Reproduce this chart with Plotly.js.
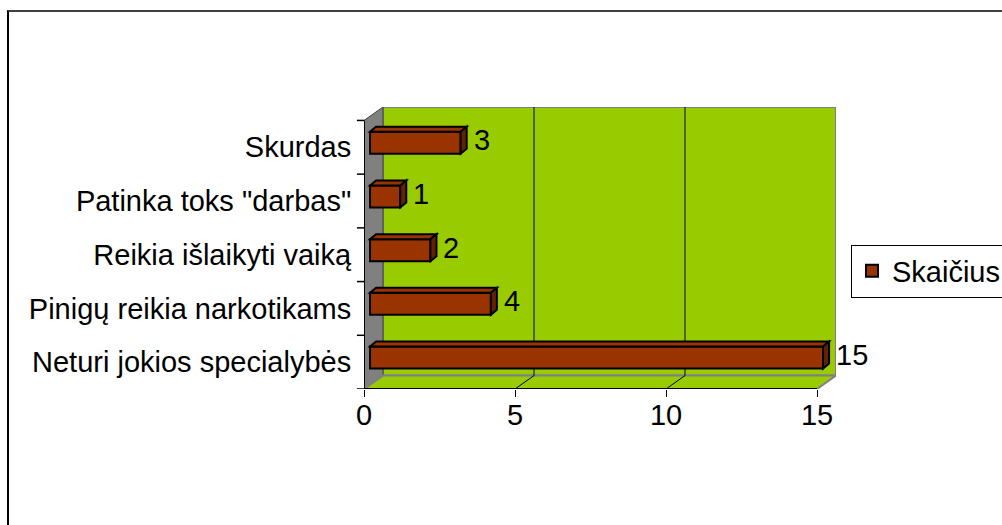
<!DOCTYPE html>
<html>
<head>
<meta charset="utf-8">
<script src="https://cdn.plot.ly/plotly-3.0.1.min.js"></script>
<style>
html,body{margin:0;padding:0;background:#fff;}
#chart{width:1002px;height:525px;position:relative;}
#frame{position:absolute;left:7px;top:10px;width:1100px;height:600px;border-top:2px solid #404040;border-left:2px solid #000;pointer-events:none;}
</style>
</head>
<body>
<div id="chart"></div>
<div id="frame"></div>
<script>
// ---- data ----
const categories = ['Neturi jokios specialybės', 'Pinigų reikia narkotikams', 'Reikia išlaikyti vaiką', 'Patinka toks "darbas"', 'Skurdas'];
const values = [15, 4, 2, 1, 3];
const xTickVals = [0, 5, 10, 15];
const seriesName = 'Skaičius';

// ---- 3D look parameters (in axis units) ----
const DX = 0.629, DY = 0.25;      // wall depth
const BX = 0.2, BY = 0.085;       // bar front-face offset
const FDX = 0.2, FDY = 0.093;     // bar depth faces
const BW = 0.41;                  // bar thickness
const xMax = 15;
const nCat = categories.length;
const idx = categories.map((c, i) => i);

const FONT = 'Liberation Sans, Arial, sans-serif';
const FS = 29;
const shapes = [];
// back wall
shapes.push({type:'rect', xref:'x', yref:'y', layer:'below', x0:DX, x1:xMax+DX, y0:-0.5+DY, y1:nCat-0.5+DY,
  fillcolor:'#99CC00', line:{color:'#808080', width:2}});
// left wall
shapes.push({type:'path', xref:'x', yref:'y', layer:'below',
  path:`M0,-0.5 L${DX},${-0.5+DY} L${DX},${nCat-0.5+DY} L0,${nCat-0.5} Z`,
  fillcolor:'#808080', line:{color:'#404040', width:1}});
// floor
shapes.push({type:'path', xref:'x', yref:'y', layer:'below',
  path:`M0,-0.5 L${DX},${-0.5+DY} L${xMax+DX},${-0.5+DY} L${xMax},-0.5 Z`,
  fillcolor:'#99CC00', line:{color:'#808080', width:2}});
// gridlines + floor diagonals
xTickVals.forEach(v => {
  if (v > 0 && v < xMax) {
    shapes.push({type:'line', xref:'x', yref:'y', layer:'below', x0:v+DX, x1:v+DX, y0:-0.5+DY, y1:nCat-0.5+DY, line:{color:'#000', width:1}});
    shapes.push({type:'line', xref:'x', yref:'y', layer:'below', x0:v, x1:v+DX, y0:-0.5, y1:-0.5+DY, line:{color:'#000', width:1}});
  }
});
// front axis lines
shapes.push({type:'line', xref:'x', yref:'y', x0:0, x1:xMax, y0:-0.5, y1:-0.5, line:{color:'#000', width:2}});
shapes.push({type:'line', xref:'x', yref:'y', x0:0, x1:0, y0:-0.5, y1:nCat-0.5, line:{color:'#000', width:2}});
// category boundary ticks
for (let k = 0; k <= nCat; k++) {
  shapes.push({type:'line', xref:'paper', yref:'y', x0:-0.015, x1:0, y0:k-0.5, y1:k-0.5, line:{color:'#000', width:1.5}});
}
// bar top and side faces
values.forEach((v, i) => {
  const yt = i + BW/2, yb = i - BW/2;
  shapes.push({type:'path', xref:'x2', yref:'y2',
    path:`M0,${yt} L${v},${yt} L${v+FDX},${yt+FDY} L${FDX},${yt+FDY} Z`,
    fillcolor:'#993300', line:{color:'#000', width:2}});
  shapes.push({type:'path', xref:'x2', yref:'y2',
    path:`M${v},${yb} L${v},${yt} L${v+FDX},${yt+FDY} L${v+FDX},${yb+FDY} Z`,
    fillcolor:'#662200', line:{color:'#000', width:2}});
});

// value labels
const annotations = values.map((v, i) => ({
  xref:'x2', yref:'y2', x:v + FDX, y:i + FDY/2, text:String(v), showarrow:false,
  xanchor:'left', yanchor:'middle', xshift:5, font:{family:FONT, size:FS, color:'#000'}
}));

const traces = [
  {type:'bar', orientation:'h', name:seriesName, x:values, y:idx, xaxis:'x2', yaxis:'y2',
   width:BW, marker:{color:'#993300', line:{color:'#000', width:2}}, hoverinfo:'x+y'}
];

const layout = {
  width:1002, height:525,
  margin:{l:364, r:166, t:107, b:136, pad:0},
  paper_bgcolor:'#fff', plot_bgcolor:'rgba(0,0,0,0)',
  font:{family:FONT, size:FS, color:'#000'},
  showlegend:true,
  legend:{xref:'container', yref:'container', x:851/1002, xanchor:'left', y:1-271/525, yanchor:'middle',
    bgcolor:'#fff', bordercolor:'#000', borderwidth:1,
    font:{family:FONT, size:FS, color:'#000'}, tracegroupgap:0},
  xaxis:{range:[0, xMax+DX], tickvals:xTickVals, ticktext:xTickVals.map(String), ticks:'outside', ticklen:7, tickwidth:1,
    tickcolor:'#000', showgrid:false, zeroline:false, showline:false, fixedrange:true, automargin:false,
    ticklabelstandoff:-7, tickfont:{family:FONT, size:FS, color:'#000'}},
  yaxis:{range:[-0.5, nCat-0.5+DY], tickvals:idx, ticktext:categories, ticks:'outside', ticklen:6,
    tickcolor:'rgba(0,0,0,0)', showgrid:false, zeroline:false, showline:false, fixedrange:true, automargin:false,
    tickfont:{family:FONT, size:FS, color:'#000'}},
  xaxis2:{overlaying:'x', range:[-BX, xMax+DX-BX], visible:false, fixedrange:true},
  yaxis2:{overlaying:'y', range:[-0.5-BY, nCat-0.5+DY-BY], visible:false, fixedrange:true},
  shapes:shapes,
  annotations:annotations
};

Plotly.newPlot('chart', traces, layout, {staticPlot:true, displayModeBar:false});
</script>
</body>
</html>
